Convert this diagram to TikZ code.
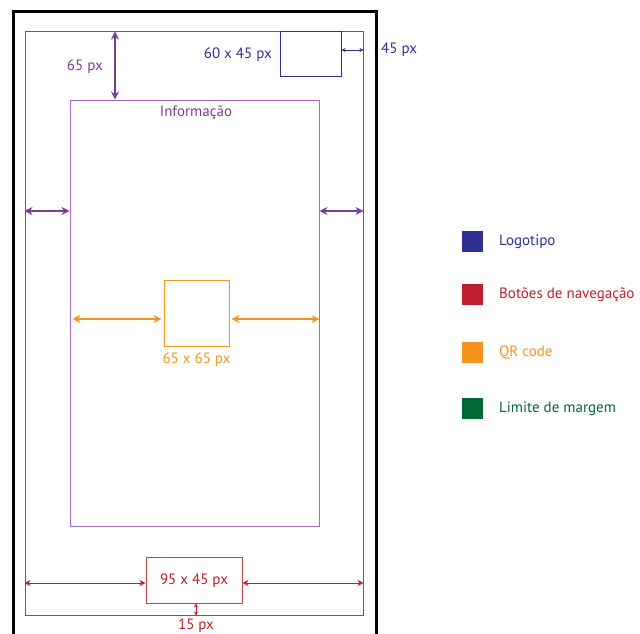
\documentclass[tikz,border=0pt]{standalone}
\usepackage{fontspec}
\setmainfont{PT Sans}
\usepackage{tikz}
\usetikzlibrary{arrows.meta}
\definecolor{logoblue}{HTML}{2E3192}
\definecolor{navred}{HTML}{BE1E2D}
\definecolor{qrorange}{HTML}{F7941D}
\definecolor{margreen}{HTML}{006837}
\definecolor{margline}{HTML}{2F8050}
\definecolor{infoline}{HTML}{A66BC8}
\definecolor{infopurple}{HTML}{7D3C98}

\begin{document}
\begin{tikzpicture}[x=1pt,y=1pt,yscale=-1,
  box/.style={draw,inner sep=0pt,line width=1pt},
  dimarr/.style={{Stealth[length=8pt,width=8pt]}-{Stealth[length=8pt,width=8pt]},line width=1.2pt},
  smallarr/.style={{Stealth[length=4pt,width=4pt]}-{Stealth[length=4pt,width=4pt]},line width=0.8pt},
  redarr/.style={{Stealth[length=6pt,width=6pt]}-{Stealth[length=6pt,width=6pt]},line width=0.9pt},
  txt/.style={font=\fontsize{15}{17}\selectfont,inner sep=0pt}]
\useasboundingbox (0,0) rectangle (640,634);

%Phone frame
\draw[line width=3pt] (13,640) -- (13,12) -- (376,12) -- (376,640);

%Margin limit
\node[box,draw=margline,minimum width=338,minimum height=583] (margin) at (194,323.5) {};
%Logo
\node[box,draw=logoblue,minimum width=61,minimum height=45] (logo) at (310.5,54.5) {};
%Information area
\node[box,draw=infoline,minimum width=249,minimum height=426] (info) at (194.5,313) {};
%QR code
\node[box,draw=qrorange,minimum width=65,minimum height=66] (qr) at (196.5,313) {};
%Navigation buttons
\node[box,draw=navred!85,minimum width=96,minimum height=46] (nav) at (194,580) {};

% Text Nodes
\node[txt,text=logoblue,anchor=east] (logolbl) at (272,55) {60 x 45 px};
\node[txt,text=logoblue,anchor=west] (marglbl) at (381,50) {45 px};
\node[txt,text=infopurple,anchor=east] (toplbl) at (103,67) {65 px};
\node[txt,text=infopurple] (infolbl) at (196,113) {Informação};
\node[txt,text=qrorange] (qrlbl) at (196.5,360) {65 x 65 px};
\node[txt,text=navred] (navlbl) at (194,581) {95 x 45 px};
\node[txt,text=navred] (botlbl) at (196,626) {15 px};

% Dimension arrows
\draw[smallarr,logoblue] (logo.east |- 0,50) -- (margin.east |- 0,50);
\draw[dimarr,infopurple] (115,0 |- margin.north) -- (115,0 |- info.north);
\draw[dimarr,infopurple] (margin.west |- 0,211) -- (info.west |- 0,211);
\draw[dimarr,infopurple] (info.east |- 0,211) -- (margin.east |- 0,211);
\draw[dimarr,qrorange,shorten <=3pt,shorten >=2pt] (info.west |- 0,319) -- (qr.west |- 0,319);
\draw[dimarr,qrorange,shorten <=2pt] (qr.east |- 0,319) -- (info.east |- 0,319);
\draw[redarr,navred] (margin.west |- 0,583) -- (nav.west |- 0,583);
\draw[redarr,navred] (nav.east |- 0,583) -- (margin.east |- 0,583);
\draw[smallarr,navred] (196,0 |- nav.south) -- (196,0 |- margin.south);

% Legend
\foreach \col/\name/\y [count=\i] in {logoblue/Logotipo/241, navred/Botões de navegação/294, qrorange/QR code/352, margreen/Limite de margem/408}{
  \node[fill=\col,minimum size=21,inner sep=0pt] (key\i) at (472,\y) {};
  \node[txt,text=\col,anchor=west] (keylbl\i) at (499,\y+1) {\name};
}

\end{tikzpicture}
\end{document}
